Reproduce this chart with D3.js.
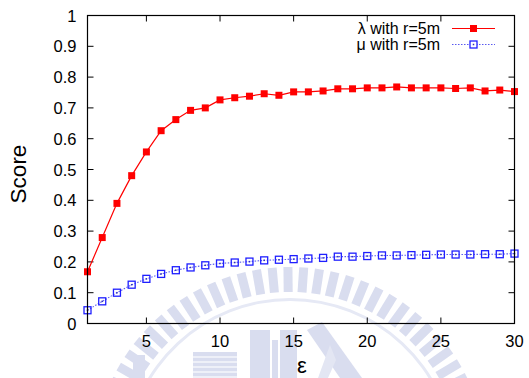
<!DOCTYPE html>
<html>
<head>
<meta charset="utf-8">
<script src="https://cdn.jsdelivr.net/npm/d3@7/dist/d3.min.js"></script>
<style>
  html, body { margin: 0; padding: 0; background: #fff; }
  svg { display: block; }
  text { font-family: "Liberation Sans", Arial, Helvetica, sans-serif; fill: #000; }
</style>
</head>
<body>
<svg id="chart" width="529" height="378"></svg>
<script>
// epsilon values along the x axis
const epsilon = d3.range(1, 31);

// lambda score, r = 5m
const lambdaScores = [0.168, 0.279, 0.390, 0.480, 0.557, 0.626, 0.662, 0.692, 0.700, 0.726,
                      0.733, 0.738, 0.746, 0.741, 0.752, 0.752, 0.755, 0.762, 0.762, 0.765,
                      0.765, 0.768, 0.765, 0.765, 0.765, 0.763, 0.765, 0.755, 0.758, 0.753];

// mu score, r = 5m
const muScores = [0.043, 0.072, 0.100, 0.126, 0.145, 0.161, 0.173, 0.182, 0.189, 0.195,
                  0.198, 0.201, 0.205, 0.207, 0.209, 0.211, 0.213, 0.217, 0.217, 0.219,
                  0.221, 0.221, 0.222, 0.223, 0.224, 0.224, 0.224, 0.225, 0.225, 0.227];

const xTicks = [5, 10, 15, 20, 25, 30];
const yTicks = [0, 0.1, 0.2, 0.3, 0.4, 0.5, 0.6, 0.7, 0.8, 0.9, 1];
const yTickLabels = ["0", "0.1", "0.2", "0.3", "0.4", "0.5", "0.6", "0.7", "0.8", "0.9", "1"];

const seriesNames = ["\u03bb with r=5m", "\u03bc with r=5m"];
const xLabel = "\u03b5";
const yLabel = "Score";

const svg = d3.select("#chart");
const plotLeft = 87.5, plotRight = 514.5, plotTop = 15.5, plotBottom = 323.5;

const x = d3.scaleLinear().domain([1, 30]).range([plotLeft, plotRight]);
const y = d3.scaleLinear().domain([0, 1]).range([plotBottom, plotTop]);

// faint seal in the background
const seal = svg.append("g").attr("fill", "#d9ddef").attr("stroke", "none");
const cx = 290, cy = 464, rOuter = 197, rInner = 172;
d3.range(-88, 89, 4.6).forEach(a => {
  seal.append("rect")
    .attr("x", -4.5).attr("y", -rOuter).attr("width", 9).attr("height", rOuter - rInner)
    .attr("transform", `translate(${cx},${cy}) rotate(${a})`);
});
seal.append("path")
  .attr("d", d3.arc().innerRadius(163).outerRadius(166).startAngle(-1.5).endAngle(1.5)())
  .attr("transform", `translate(${cx},${cy})`)
  .attr("fill", "#e6e9f5");
// building blocks
const blocks = [[133, 355, 12, 30], [193, 352, 44, 30], [250, 330, 20, 50], [272, 340, 6, 40], [280, 330, 17, 50]];
blocks.forEach(b => seal.append("rect").attr("x", b[0]).attr("y", b[1]).attr("width", b[2]).attr("height", b[3]));
d3.range(356, 380, 5).forEach(yy => seal.append("rect").attr("x", 193).attr("y", yy).attr("width", 44).attr("height", 2).attr("fill", "#eef0f8"));
seal.append("path").attr("d", "M307,330 L322,322 L362,378 L340,378 Z");
seal.append("path").attr("d", "M318,378 L330,345 L336,360 L328,378 Z").attr("fill", "#e3e6f3");

// ticks (inward, mirrored on top and right)
const tickLen = 6;
const frame = svg.append("g").attr("stroke", "#000").attr("stroke-width", 1);
xTicks.forEach(t => {
  frame.append("line").attr("x1", x(t)).attr("x2", x(t)).attr("y1", plotBottom).attr("y2", plotBottom - tickLen);
  frame.append("line").attr("x1", x(t)).attr("x2", x(t)).attr("y1", plotTop).attr("y2", plotTop + tickLen);
});
yTicks.forEach(t => {
  frame.append("line").attr("x1", plotLeft).attr("x2", plotLeft + tickLen).attr("y1", y(t)).attr("y2", y(t));
  frame.append("line").attr("x1", plotRight).attr("x2", plotRight - tickLen).attr("y1", y(t)).attr("y2", y(t));
});

// tick labels
svg.append("g").selectAll("text").data(xTicks).join("text")
  .attr("x", d => x(d)).attr("y", plotBottom + 23.5)
  .attr("text-anchor", "middle").attr("font-size", 16.5)
  .text(d => d);
svg.append("g").selectAll("text").data(yTicks).join("text")
  .attr("x", 76.5).attr("y", d => y(d) + 6)
  .attr("text-anchor", "end").attr("font-size", 16.5)
  .text((d, i) => yTickLabels[i]);

// axis titles
svg.append("text")
  .attr("transform", `translate(26,174) rotate(-90)`)
  .attr("text-anchor", "middle").attr("font-size", 22.5)
  .text(yLabel);
svg.append("text")
  .attr("x", 302).attr("y", 373)
  .attr("text-anchor", "middle").attr("font-size", 22)
  .text(xLabel);

// series
const line = d3.line().x((d, i) => x(epsilon[i])).y(d => y(d));
const ms = 7;

svg.append("path").datum(muScores)
  .attr("d", line).attr("fill", "none")
  .attr("stroke", "#5a5af0").attr("stroke-width", 1.1).attr("stroke-dasharray", "1.5,1.5");
const muMarks = svg.append("g");
muScores.forEach((v, i) => {
  muMarks.append("rect")
    .attr("x", x(epsilon[i]) - ms / 2).attr("y", y(v) - ms / 2)
    .attr("width", ms).attr("height", ms)
    .attr("fill", "none").attr("stroke", "#1f1fff").attr("stroke-width", 1.3);
  muMarks.append("rect")
    .attr("x", x(epsilon[i]) - 0.75).attr("y", y(v) - 0.75)
    .attr("width", 1.5).attr("height", 1.5).attr("fill", "#3030c0");
});

svg.append("path").datum(lambdaScores)
  .attr("d", line).attr("fill", "none")
  .attr("stroke", "#ff0000").attr("stroke-width", 1.2);
svg.append("g").selectAll("rect").data(lambdaScores).join("rect")
  .attr("x", (d, i) => x(epsilon[i]) - ms / 2).attr("y", d => y(d) - ms / 2)
  .attr("width", ms).attr("height", ms).attr("fill", "#ff0000");

// frame
svg.append("rect")
  .attr("x", plotLeft).attr("y", plotTop).attr("width", plotRight - plotLeft).attr("height", plotBottom - plotTop)
  .attr("fill", "none").attr("stroke", "#000").attr("stroke-width", 1.2);

// legend
const legend = svg.append("g");
const ly = [28.5, 44.5];
legend.append("text").attr("x", 440).attr("y", ly[0] + 5.5).attr("text-anchor", "end").attr("font-size", 16).text(seriesNames[0]);
legend.append("text").attr("x", 440).attr("y", ly[1] + 5).attr("text-anchor", "end").attr("font-size", 16).text(seriesNames[1]);
legend.append("line").attr("x1", 452).attr("x2", 495).attr("y1", ly[0]).attr("y2", ly[0])
  .attr("stroke", "#ff0000").attr("stroke-width", 1.2);
legend.append("rect").attr("x", 473.5 - ms / 2).attr("y", ly[0] - ms / 2).attr("width", ms).attr("height", ms).attr("fill", "#ff0000");
legend.append("line").attr("x1", 452).attr("x2", 495).attr("y1", ly[1]).attr("y2", ly[1])
  .attr("stroke", "#5a5af0").attr("stroke-width", 1.1).attr("stroke-dasharray", "1.5,1.5");
legend.append("rect").attr("x", 473.5 - ms / 2).attr("y", ly[1] - ms / 2).attr("width", ms).attr("height", ms)
  .attr("fill", "#fff").attr("stroke", "#1f1fff").attr("stroke-width", 1.3);
legend.append("rect").attr("x", 473.5 - 0.75).attr("y", ly[1] - 0.75).attr("width", 1.5).attr("height", 1.5).attr("fill", "#3030c0");
</script>
</body>
</html>
